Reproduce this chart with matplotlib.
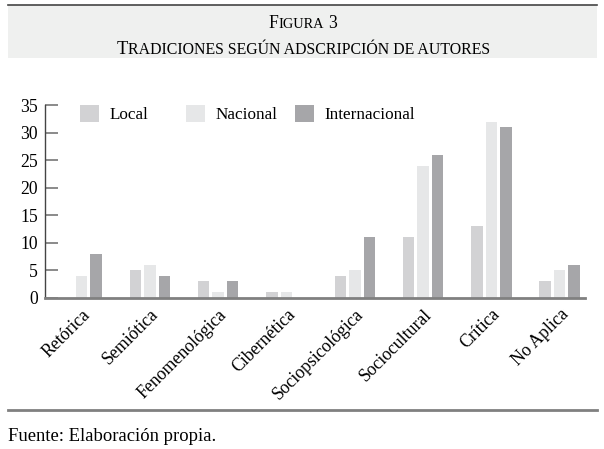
import matplotlib
matplotlib.use('Agg')
import matplotlib.pyplot as plt
from matplotlib.patches import Rectangle, Patch
from matplotlib.lines import Line2D
from matplotlib.legend import Legend
import numpy as np

plt.rcParams['font.family'] = ['Liberation Serif', 'DejaVu Serif']

categories = ['Retórica', 'Semiótica', 'Fenomenológica', 'Cibernética',
              'Sociopsicológica', 'Sociocultural', 'Crítica', 'No Aplica']
local = [0, 5, 3, 1, 4, 11, 13, 3]
nacional = [4, 6, 1, 1, 5, 24, 32, 5]
internacional = [8, 4, 3, 0, 11, 26, 31, 6]
series_names = ['Local', 'Nacional', 'Internacional']
colors = ['#d2d2d4', '#e6e7e8', '#a6a6a9']

W, H = 604, 449
fig = plt.figure(figsize=(W / 100, H / 100), dpi=100)


def px(x, y):
    # pixel coords (top-left origin) -> figure fraction
    return x / W, 1 - y / H


# header band and rules
fig.patches.append(Rectangle(px(8, 58), 589 / W, 53 / H, transform=fig.transFigure,
                             facecolor='#eff0ef', edgecolor='none', zorder=0))
fig.lines.append(Line2D([8 / W, 597 / W], [1 - 4.5 / H] * 2, transform=fig.transFigure,
                        color='#444444', lw=1.2))
fig.lines.append(Line2D([8 / W, 597 / W], [1 - 410 / H] * 2, transform=fig.transFigure,
                        color='#808080', lw=2))


def smallcaps_line(parts, y_px, cx_px=303):
    # parts: (text, fontsize, gap before in px)
    texts = [fig.text(0, 1 - y_px / H, s, fontsize=fs, va='baseline') for s, fs, g in parts]
    r = fig.canvas.get_renderer()
    widths = [t.get_window_extent(r).width for t in texts]
    total = sum(widths) + sum(g for _, _, g in parts)
    x = cx_px - total / 2
    for t, w, (_, _, g) in zip(texts, widths, parts):
        x += g
        t.set_x(x / W)
        x += w


smallcaps_line([('F', 12.7, 0), ('IGURA', 10.4, 0), ('3', 12.7, 4)], 27.7)
smallcaps_line([('T', 13.2, 0), ('RADICIONES SEGÚN ADSCRIPCIÓN DE AUTORES', 11.4, 0)], 54)

fig.text(8 / W, 1 - 441 / H, 'Fuente: Elaboración propia.', fontsize=13.4, va='baseline')

# chart
ax = fig.add_axes([45 / W, 1 - 297.7 / H, 540 / W, 192.7 / H])
x = np.arange(len(categories))
step, width = 0.212, 0.168
for i, (vals, c) in enumerate(zip([local, nacional, internacional], colors)):
    ax.bar(x + (i - 1) * step, vals, width=width, color=c, zorder=2)

ax.set_xlim(-0.534, 7.37)
ax.set_ylim(0, 35)
ax.set_yticks(range(0, 36, 5))
ax.set_xticks(x)
ax.set_xticklabels(categories, rotation=45, ha='right', va='top', rotation_mode='anchor',
                   fontsize=12.8)
ax.tick_params(axis='x', length=0, pad=6)
ax.tick_params(axis='y', direction='in', length=9, width=1.2, color='#777777',
               labelsize=12.7, pad=5)
for s in ['top', 'right']:
    ax.spines[s].set_visible(False)
ax.spines['left'].set_color('#444444')
ax.spines['left'].set_linewidth(1)
ax.spines['bottom'].set_color('#808080')
ax.spines['bottom'].set_linewidth(2)

# legend, one per entry so the columns sit at even spacing
for name, c, xp in zip(series_names, colors, [80, 186, 295]):
    leg = Legend(ax, [Patch(facecolor=c, edgecolor='none')], [name],
                 loc='upper left', bbox_to_anchor=((xp - 45) / 540, 1.0),
                 frameon=False, fontsize=12.3, borderpad=0, borderaxespad=0,
                 handlelength=1.11, handleheight=1.11, handletextpad=0.6)
    ax.add_artist(leg)

fig.savefig('out.png', dpi=100)
